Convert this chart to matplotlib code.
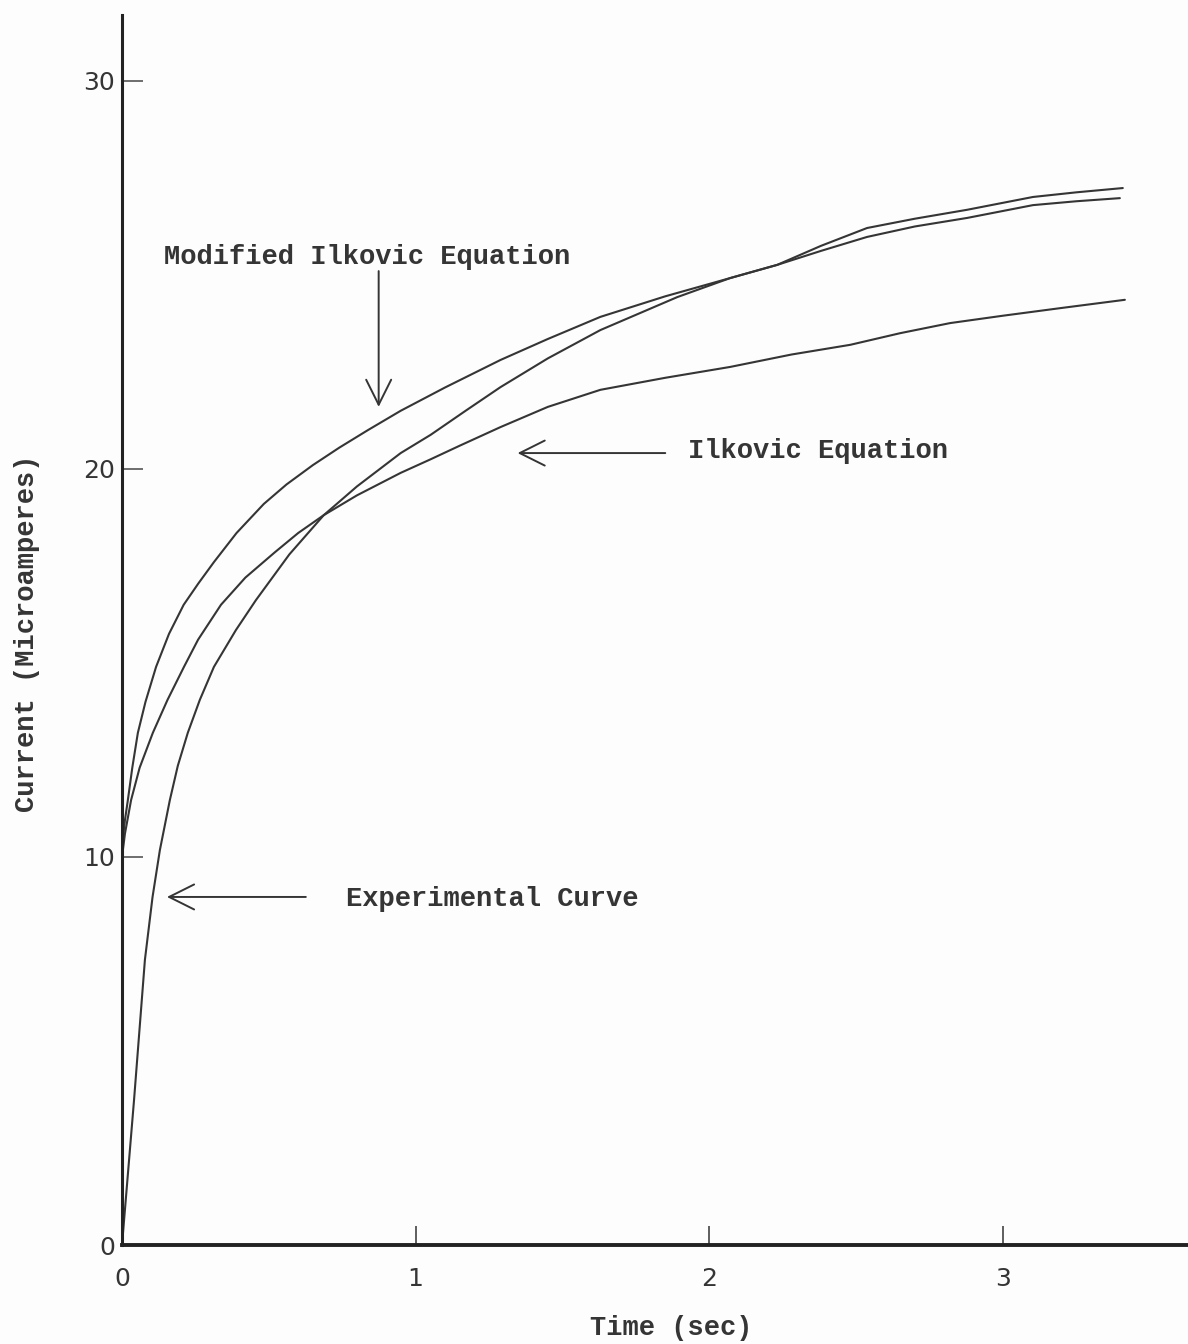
import numpy as np
import matplotlib
matplotlib.use("Agg")
import matplotlib.pyplot as plt

# values (time in sec, current in microamperes)
t_modified = [0.0, 0.005, 0.01, 0.02, 0.035, 0.054, 0.08, 0.116, 0.16, 0.21,
              0.26, 0.313, 0.39, 0.483, 0.56, 0.65, 0.74, 0.837, 0.949, 1.1,
              1.289, 1.45, 1.629, 1.85, 2.071, 2.231, 2.38, 2.537, 2.7, 2.878,
              3.102, 3.25, 3.398]
i_modified = [10.0, 10.6, 10.95, 11.47, 12.3, 13.2, 14.0, 14.9, 15.75, 16.5,
              17.05, 17.6, 18.35, 19.1, 19.6, 20.1, 20.55, 21.0, 21.5, 22.1,
              22.81, 23.35, 23.92, 24.45, 24.92, 25.26, 25.62, 25.98, 26.25, 26.47,
              26.80, 26.9, 26.98]

t_ilkovic = [0.0, 0.01, 0.031, 0.06, 0.105, 0.155, 0.211, 0.259, 0.337, 0.42,
             0.52, 0.6, 0.687, 0.8, 0.949, 1.051, 1.15, 1.289, 1.45, 1.629,
             1.85, 2.071, 2.28, 2.48, 2.65, 2.82, 3.0, 3.2, 3.415]
i_ilkovic = [10.0, 10.6, 11.47, 12.3, 13.2, 14.05, 14.9, 15.6, 16.5, 17.2,
             17.85, 18.35, 18.81, 19.32, 19.9, 20.25, 20.6, 21.08, 21.6, 22.04,
             22.35, 22.63, 22.95, 23.2, 23.5, 23.76, 23.95, 24.15, 24.36]

t_exper = [0.0, 0.041, 0.078, 0.104, 0.129, 0.163, 0.19, 0.224, 0.265, 0.313,
           0.388, 0.456, 0.57, 0.687, 0.8, 0.949, 1.051, 1.17, 1.289, 1.45,
           1.629, 1.891, 2.071, 2.231, 2.38, 2.537, 2.7, 2.878, 3.102, 3.25, 3.408]
i_exper = [0.0, 3.74, 7.35, 8.97, 10.18, 11.47, 12.35, 13.2, 14.05, 14.9,
           15.85, 16.62, 17.8, 18.81, 19.55, 20.41, 20.88, 21.5, 22.11, 22.85,
           23.58, 24.43, 24.92, 25.26, 25.75, 26.21, 26.45, 26.68, 27.01, 27.13, 27.24]

x_ticks = [0, 1, 2, 3]
y_ticks = [0, 10, 20, 30]

ink = "#353535"
mono = "Liberation Mono"

fig = plt.figure(figsize=(11.88, 13.44), dpi=100)
fig.patch.set_facecolor("#fdfdfd")
ax = fig.add_axes([0.1027, 0.07366, 0.8973, 0.91518])
ax.set_facecolor("#fdfdfd")

for tt, ii in [(t_modified, i_modified), (t_ilkovic, i_ilkovic), (t_exper, i_exper)]:
    ax.plot(tt, ii, color=ink, lw=1.5, solid_capstyle="round", solid_joinstyle="round")

ax.set_xlim(0, 3.63)
ax.set_ylim(0, 31.7)
ax.spines["top"].set_visible(False)
ax.spines["right"].set_visible(False)
ax.spines["left"].set_linewidth(2.2)
ax.spines["bottom"].set_linewidth(2.8)
ax.spines["left"].set_color("#222222")
ax.spines["bottom"].set_color("#222222")

ax.set_xticks(x_ticks)
ax.set_yticks(y_ticks)
ax.tick_params(axis="x", direction="in", length=14, width=1.2, color="#444444",
               pad=16, labelsize=18, labelcolor=ink)
ax.tick_params(axis="y", direction="in", length=15, width=1.2, color="#555555",
               pad=5, labelsize=18, labelcolor=ink)

ax.set_xlabel("Time (sec)", family=mono, fontweight="bold", fontsize=19.5, color=ink)
ax.xaxis.set_label_coords(0.515, -0.057)
ax.set_ylabel("Current (Microamperes)", family=mono, fontweight="bold", fontsize=19.5,
              color=ink)
ax.yaxis.set_label_coords(-0.077, 0.4976)

# annotations with open arrow heads
arrow = dict(arrowstyle="->,head_length=0.9,head_width=0.45", lw=1.4, color=ink,
             mutation_scale=20, shrinkA=0, shrinkB=0)

ax.text(0.143, 25.46, "Modified Ilkovic Equation", family=mono, fontweight="bold",
        fontsize=19.5, color=ink, ha="left", va="center")
ax.annotate("", xy=(0.874, 21.6), xytext=(0.874, 25.1), arrowprops=arrow)

ax.text(1.929, 20.46, "Ilkovic Equation", family=mono, fontweight="bold",
        fontsize=19.5, color=ink, ha="left", va="center")
ax.annotate("", xy=(1.347, 20.41), xytext=(1.85, 20.41), arrowprops=arrow)

ax.text(0.762, 8.92, "Experimental Curve", family=mono, fontweight="bold",
        fontsize=19.5, color=ink, ha="left", va="center")
ax.annotate("", xy=(0.153, 8.97), xytext=(0.626, 8.97), arrowprops=arrow)

fig.savefig("out.png", dpi=100, facecolor=fig.get_facecolor())
